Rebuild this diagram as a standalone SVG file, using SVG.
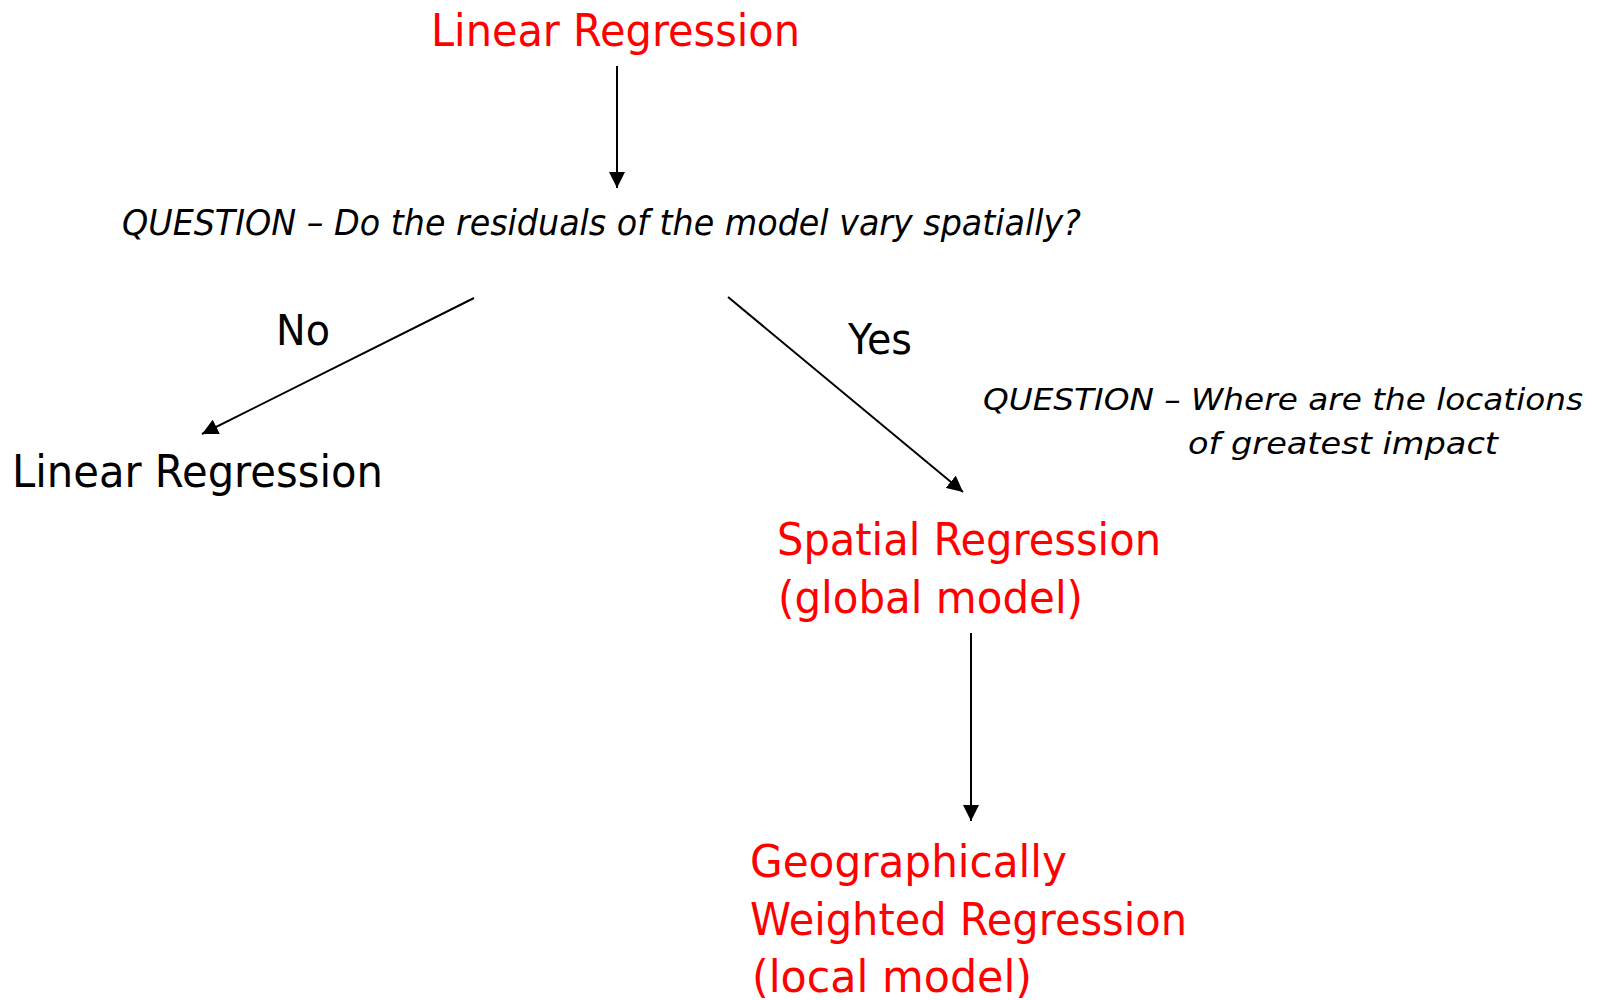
<svg xmlns="http://www.w3.org/2000/svg" width="1606" height="1000" viewBox="0 0 1606 1000">
<style>
  text { font-family: "DejaVu Sans", "Liberation Sans", sans-serif; }
  .red { fill: #ff0000; font-size: 45px; }
  .blk { fill: #000000; font-size: 45px; }
  .lbl { fill: #000000; font-size: 42px; }
  .q { fill: #000000; font-size: 35px; font-style: italic; }
  .q2 { font-size: 31px; }
  .conn { stroke: #000000; stroke-width: 2; fill: none; marker-end: url(#ah); }
</style>
<defs>
  <marker id="ah" markerUnits="userSpaceOnUse" markerWidth="16" markerHeight="16" viewBox="0 0 16 16" refX="16" refY="8" orient="auto">
    <path d="M0,0 L16,8 L0,16 Z" fill="#000000"/>
  </marker>
</defs>
<rect width="1606" height="1000" fill="#ffffff"/>
<g id="connectors">
  <line class="conn" x1="617" y1="66" x2="617" y2="188"/>
  <line class="conn" x1="474" y1="298" x2="202" y2="434"/>
  <line class="conn" x1="728" y1="297" x2="963" y2="492"/>
  <line class="conn" x1="971" y1="633" x2="971" y2="821"/>
</g>
<g id="node-linear-top">
  <text class="red" x="431" y="46" textLength="369" lengthAdjust="spacingAndGlyphs">Linear Regression</text>
</g>
<g id="node-question1">
  <text class="q" x="122" y="235" textLength="959" lengthAdjust="spacingAndGlyphs">QUESTION – Do the residuals of the model vary spatially?</text>
</g>
<g id="label-no">
  <text class="lbl" x="276" y="345" textLength="54" lengthAdjust="spacingAndGlyphs">No</text>
</g>
<g id="node-linear-no">
  <text class="blk" x="12" y="487" textLength="371" lengthAdjust="spacingAndGlyphs">Linear Regression</text>
</g>
<g id="label-yes">
  <text class="lbl" x="848" y="354" textLength="64" lengthAdjust="spacingAndGlyphs">Yes</text>
</g>
<g id="node-question2">
  <text class="q q2" x="983" y="410" textLength="600" lengthAdjust="spacingAndGlyphs">QUESTION – Where are the locations</text>
  <text class="q q2" x="1188" y="454" textLength="310" lengthAdjust="spacingAndGlyphs">of greatest impact</text>
</g>
<g id="node-spatial">
  <text class="red" x="777" y="555" textLength="384" lengthAdjust="spacingAndGlyphs">Spatial Regression</text>
  <text class="red" x="778" y="613" textLength="305" lengthAdjust="spacingAndGlyphs">(global model)</text>
</g>
<g id="node-gwr">
  <text class="red" x="750" y="877" textLength="317" lengthAdjust="spacingAndGlyphs">Geographically</text>
  <text class="red" x="750" y="935" textLength="437" lengthAdjust="spacingAndGlyphs">Weighted Regression</text>
  <text class="red" x="752" y="992" textLength="280" lengthAdjust="spacingAndGlyphs">(local model)</text>
</g>
</svg>
